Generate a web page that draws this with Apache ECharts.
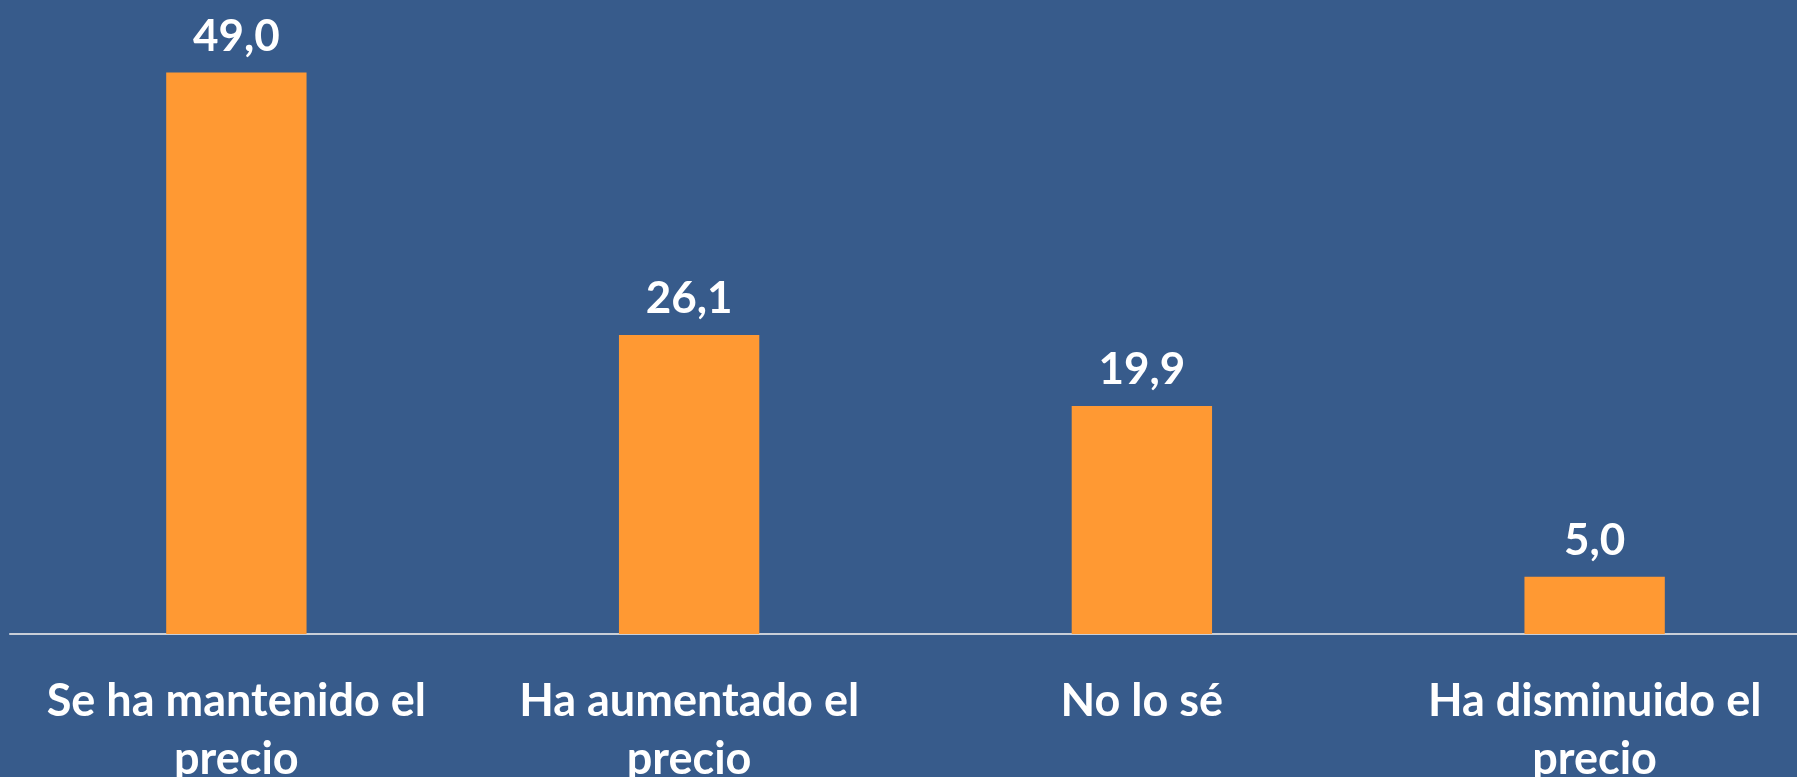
<!DOCTYPE html>
<html style="height: 100%">
    <head>
        <title>Precio</title>
        <script type="text/javascript" src="https://cdn.jsdelivr.net/npm/echarts@6/dist/echarts.min.js"></script>
    </head>
    <body style="height: 100%; margin: 0; background: #375b8b">
        <div id="target" style="height: 100%"></div>
<script>

const categories = [
    "Se ha mantenido el\nprecio",
    "Ha aumentado el\nprecio",
    "No lo sé",
    "Ha disminuido el\nprecio",
];
const values = [49.0, 26.1, 19.9, 5.0];

let chart = echarts.init(document.getElementById('target'));
window.addEventListener("resize", chart.resize);

let option = {
    backgroundColor: "#375b8b",
    animation: false,
    grid: {
        left: 10,
        right: -24,
        top: 61,
        bottom: 143,
        outerBoundsMode: "none",
        containLabel: false,
    },
    xAxis: {
        type: "category",
        data: categories,
        axisTick: { show: false },
        axisLine: {
            lineStyle: { color: "#c9cfd8", width: 2 },
        },
        axisLabel: {
            color: "#ffffff",
            fontFamily: "Lato",
            fontWeight: "bold",
            fontSize: 45,
            lineHeight: 58,
            margin: 38,
            interval: 0,
        },
    },
    yAxis: {
        type: "value",
        min: 0,
        max: 50,
        show: false,
        splitLine: { show: false },
    },
    series: [
        {
            type: "bar",
            data: values,
            barWidth: "31%",
            itemStyle: { color: "#ff9933" },
            label: {
                show: true,
                position: "top",
                distance: 14,
                color: "#ffffff",
                fontFamily: "Lato",
                fontWeight: "bold",
                fontSize: 44,
                formatter: p => p.value.toFixed(1).replace(".", ","),
            },
        },
    ],
};

chart.setOption(option);

</script>
    </body>
</html>
